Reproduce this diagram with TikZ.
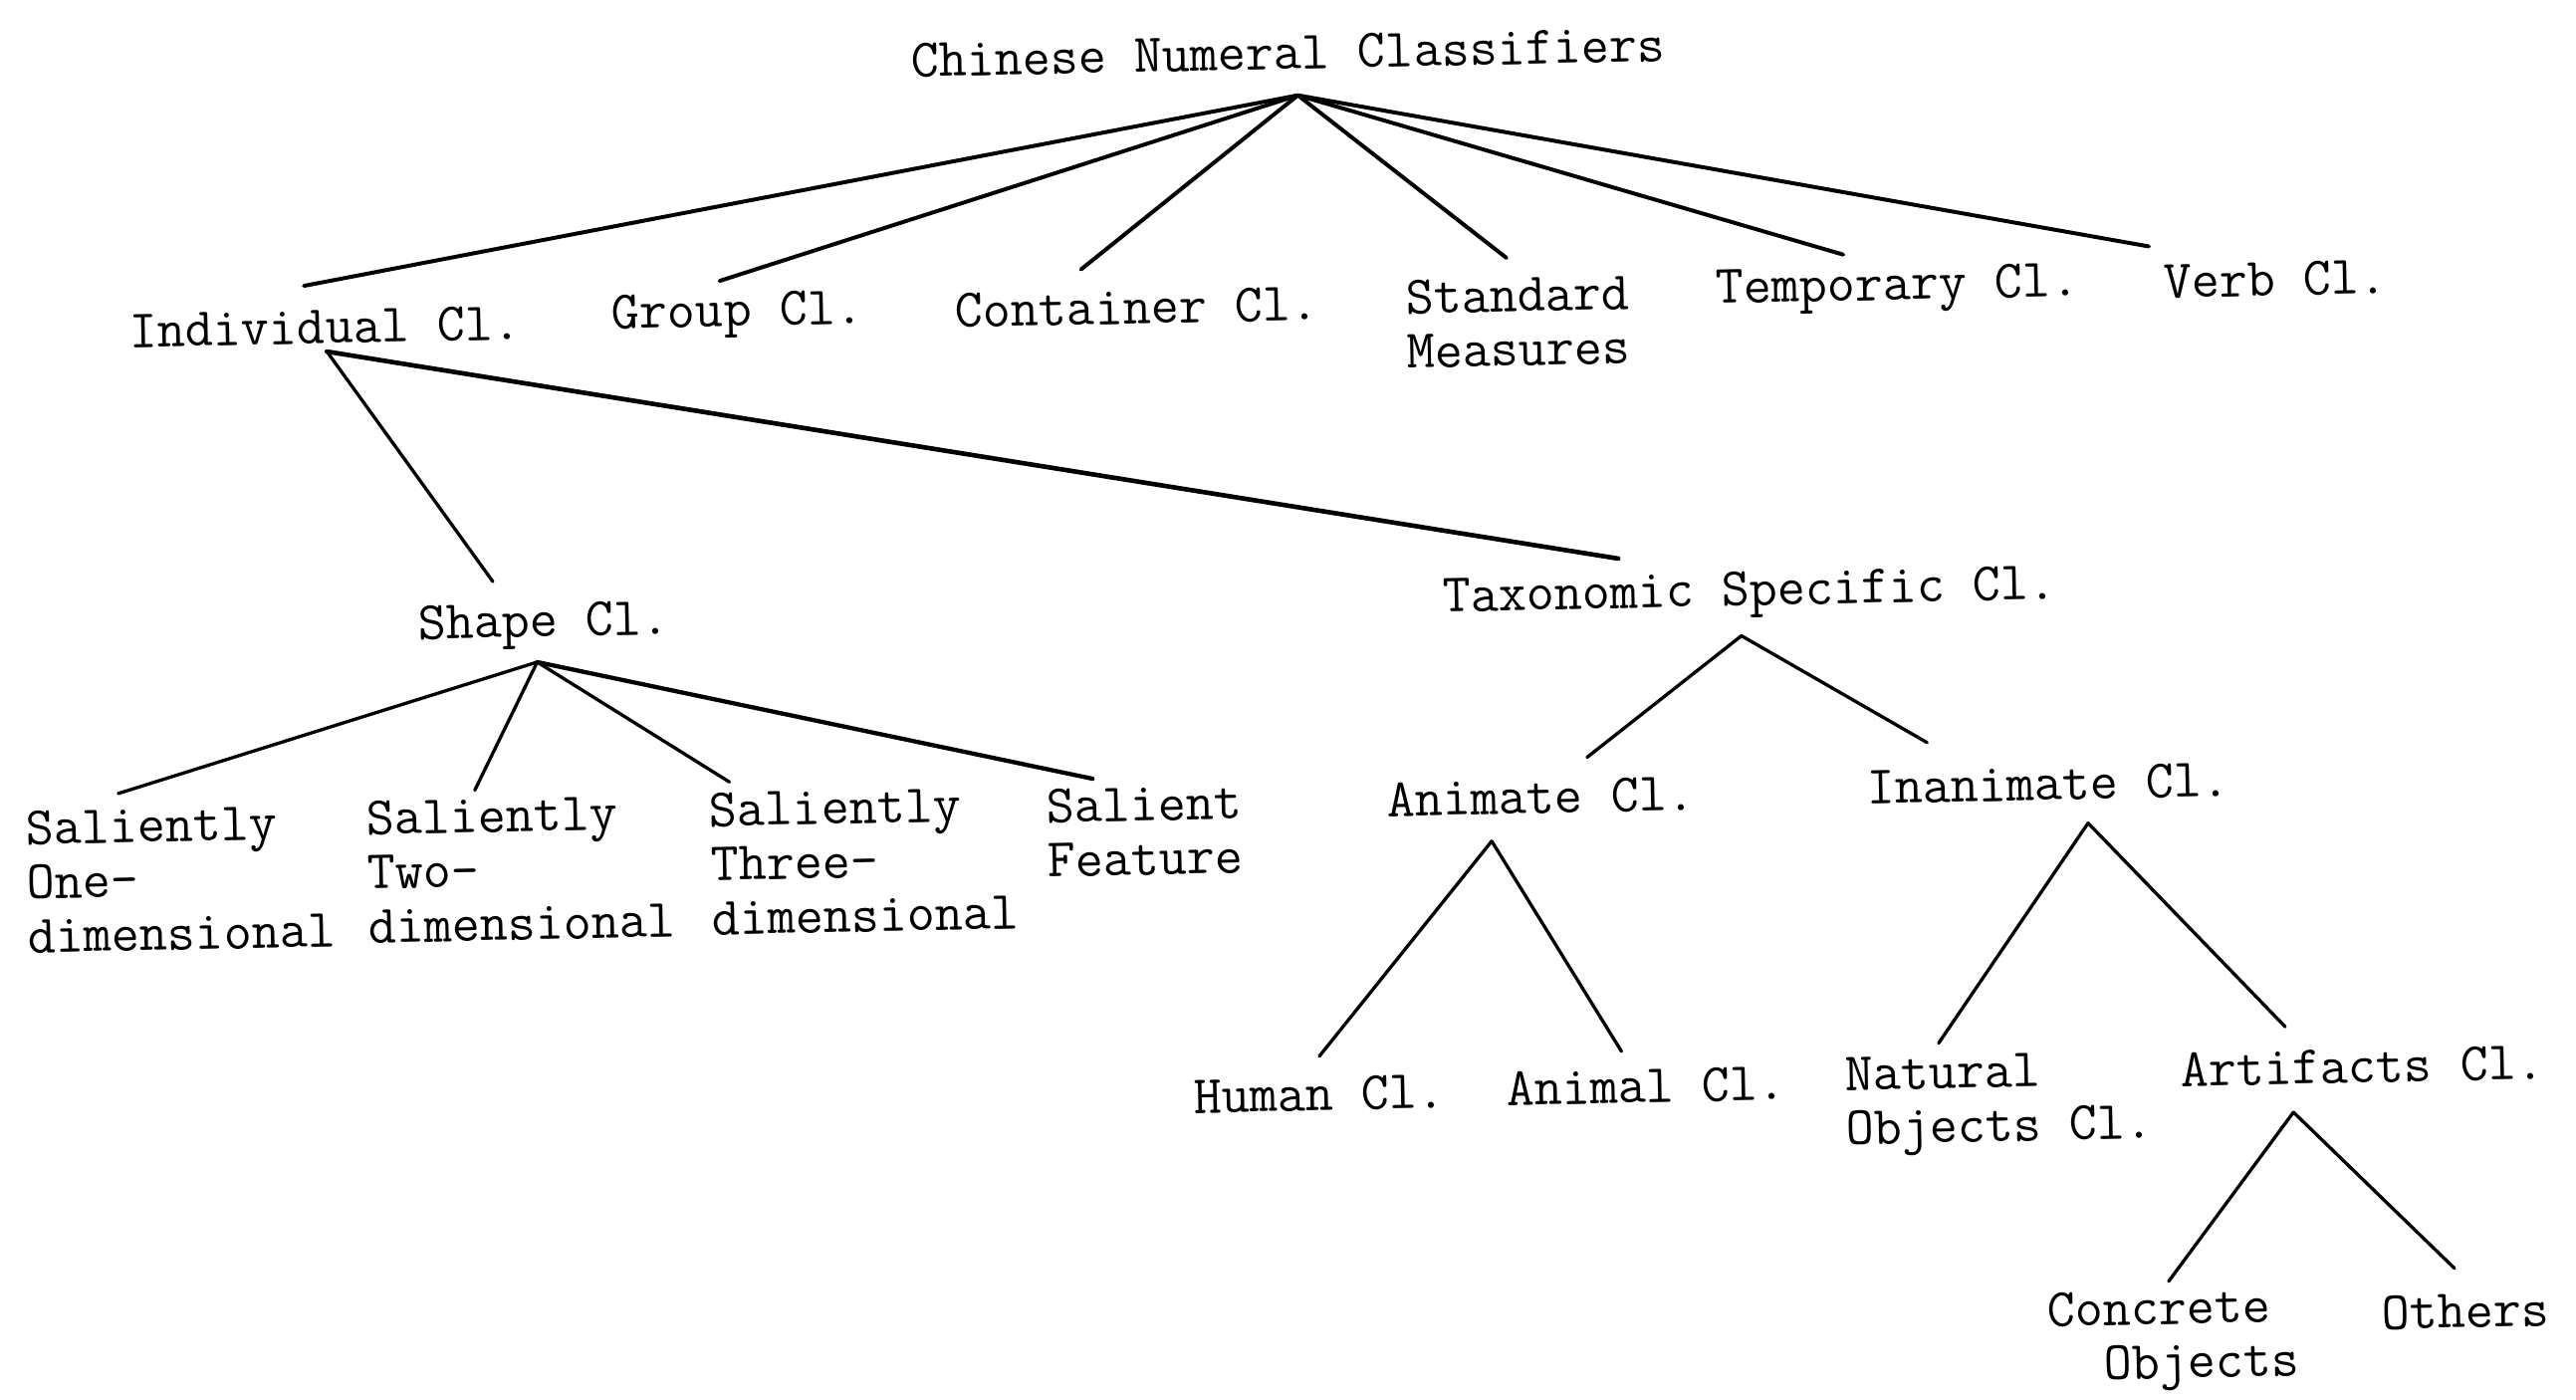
\documentclass[tikz,border=0pt]{standalone}
\usetikzlibrary{shapes,arrows,positioning}

\tikzstyle{cls} = [font=\ttfamily\fontsize{16.5}{16.5}\selectfont, text=black, inner sep=0pt, rotate=1.2, align=left]
\tikzstyle{branch} = [draw, line width=1pt, line cap=round]
\tikzstyle{heavy} = [draw, line width=1.4pt, line cap=round]

\begin{document}
\begin{tikzpicture}[x=0.5pt, y=-0.5pt]
\useasboundingbox (0,0) rectangle (1568,852);

% classifier labels ==========================
\node[cls] (root) at (784,32) {Chinese Numeral Classifiers};

\node[cls] (indiv) at (198,199) {Individual Cl.};
\node[cls] (group) at (449,192) {Group Cl.};
\node[cls] (cont) at (692,187) {Container Cl.};
\node[cls] (std) at (924,196) {Standard\\Measures};
\node[cls] (temp) at (1155,176) {Temporary Cl.};
\node[cls] (verb) at (1385,170) {Verb Cl.};

\node[cls] (shape) at (331,381) {Shape Cl.};
\node[cls] (tax) at (1065,362) {Taxonomic Specific Cl.};

\node[cls] (one) at (110,535) {Saliently\\One-\\dimensional};
\node[cls] (two) at (317,529) {Saliently\\Two-\\dimensional};
\node[cls] (three) at (526,524) {Saliently\\Three-\\dimensional};
\node[cls] (feat) at (697,506) {Salient\\Feature};

\node[cls] (anim) at (938,485) {Animate Cl.};
\node[cls] (inan) at (1247,477) {Inanimate Cl.};

\node[cls] (human) at (803,666) {Human Cl.};
\node[cls] (animal) at (1002,661) {Animal Cl.};
\node[cls] (nat) at (1217,672) {Natural\\Objects Cl.};
\node[cls] (art) at (1438,649) {Artifacts Cl.};

\node[cls] (conc) at (1323,816) {Concrete\\\hphantom{Co}Objects};
\node[cls] (oth) at (1501,798) {Others};

% branch points and tips
\coordinate (root-j) at (790,58);
\coordinate (indiv-t) at (185,174);
\coordinate (group-t) at (438,171);
\coordinate (cont-t) at (658,164);
\coordinate (std-t) at (917,157);
\coordinate (temp-t) at (1122,155);
\coordinate (verb-t) at (1308,150);

\coordinate (indiv-j) at (199,214);
\coordinate (shape-t) at (300,354);
\coordinate (tax-t) at (985,340);

\coordinate (shape-j) at (327,403);
\coordinate (one-t) at (72,483);
\coordinate (two-t) at (289,481);
\coordinate (three-t) at (444,476);
\coordinate (feat-t) at (665,474);

\coordinate (tax-j) at (1060,387);
\coordinate (anim-t) at (966,461);
\coordinate (inan-t) at (1173,452);

\coordinate (anim-j) at (908,512);
\coordinate (human-t) at (803,643);
\coordinate (animal-t) at (987,640);

\coordinate (inan-j) at (1271,501);
\coordinate (nat-t) at (1180,635);
\coordinate (art-t) at (1391,625);

\coordinate (art-j) at (1396,677);
\coordinate (conc-t) at (1320,780);
\coordinate (oth-t) at (1494,772);

% edges
\foreach \c in {indiv,group,cont,std,temp,verb}
  \path[branch, line width=1.2pt] (root-j) -- (\c-t);

\path[branch] (indiv-j) -- (shape-t);
\path[heavy] (indiv-j) -- (tax-t);

\foreach \c in {one,two,three}
  \path[branch] (shape-j) -- (\c-t);
\path[branch, line width=1.3pt] (shape-j) -- (feat-t);

\path[branch] (tax-j) -- (anim-t);
\path[branch] (tax-j) -- (inan-t);
\path[branch] (anim-j) -- (human-t);
\path[branch] (anim-j) -- (animal-t);
\path[branch] (inan-j) -- (nat-t);
\path[branch] (inan-j) -- (art-t);
\path[branch] (art-j) -- (conc-t);
\path[branch] (art-j) -- (oth-t);

\end{tikzpicture}
\end{document}
